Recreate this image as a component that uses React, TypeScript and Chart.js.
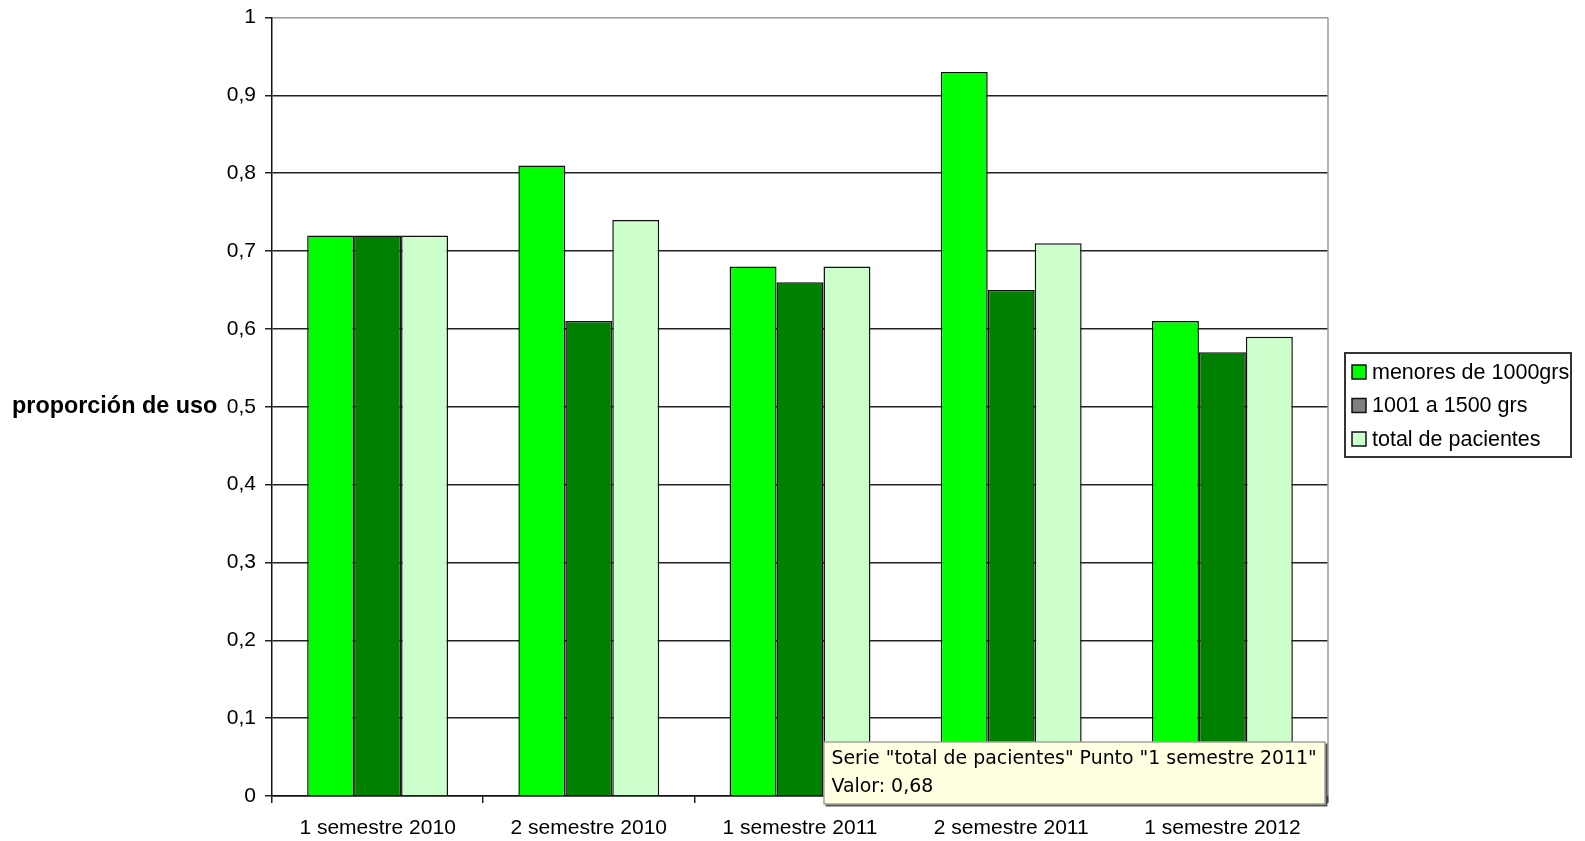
import React, { useEffect, useRef } from "react";
import { Chart, registerables } from "chart.js";

Chart.register(...registerables);

const categories = ["1 semestre 2010", "2 semestre 2010", "1 semestre 2011", "2 semestre 2011", "1 semestre 2012"];
const menores1000 = [0.72, 0.81, 0.68, 0.93, 0.61];
const de1001a1500 = [0.72, 0.61, 0.66, 0.65, 0.57];
const totalPacientes = [0.72, 0.74, 0.68, 0.71, 0.59];
const seriesLabels = ["menores de 1000grs", "1001 a 1500 grs", "total de pacientes"];
const seriesColors = ["#00FF00", "#008000", "#CCFFCC"];
const legendColors = ["#00FF00", "#808080", "#CCFFCC"];
const yAxisTitle = "proporción de uso";
const tooltipSeries = 2;
const tooltipPoint = 2;

const FONT = "'Liberation Sans', Arial, sans-serif";

const fmt = (v: number) => String(Number(v.toFixed(2))).replace(".", ",");

const decorPlugin = {
  id: "decor",
  beforeDraw(chart: any) {
    const { ctx, width, height } = chart;
    ctx.save();
    ctx.fillStyle = "#fff";
    ctx.fillRect(0, 0, width, height);
    ctx.restore();
  },
  afterDraw(chart: any) {
    const { ctx, chartArea } = chart;
    const yScale = chart.scales.y;
    ctx.save();
    // right border of plot area
    ctx.strokeStyle = "#9a9a9a";
    ctx.lineWidth = 1.5;
    ctx.beginPath();
    ctx.moveTo(chartArea.right, chartArea.top);
    ctx.lineTo(chartArea.right, chartArea.bottom);
    ctx.stroke();

    // y axis title (horizontal)
    ctx.fillStyle = "#000";
    ctx.font = `bold 23.4px ${FONT}`;
    ctx.textAlign = "left";
    ctx.textBaseline = "middle";
    ctx.fillText(yAxisTitle, 12, (chartArea.top + chartArea.bottom) / 2);

    // legend
    const lx = chartArea.right + 17;
    const ly = 353;
    const lw = 226;
    const lh = 104;
    ctx.fillStyle = "#fff";
    ctx.fillRect(lx, ly, lw, lh);
    ctx.strokeStyle = "#333";
    ctx.lineWidth = 2;
    ctx.strokeRect(lx, ly, lw, lh);
    ctx.font = `21.5px ${FONT}`;
    seriesLabels.forEach((lab, i) => {
      const cy = ly + 19 + i * 33.5;
      ctx.fillStyle = legendColors[i];
      ctx.fillRect(lx + 7, cy - 7, 14, 14);
      ctx.strokeStyle = "#111";
      ctx.lineWidth = 1.5;
      ctx.strokeRect(lx + 7, cy - 7, 14, 14);
      ctx.fillStyle = "#000";
      ctx.textBaseline = "middle";
      ctx.fillText(lab, lx + 27, cy + 1);
    });

    // hover tooltip (Excel style)
    const meta = chart.getDatasetMeta(tooltipSeries);
    const bar = meta.data[tooltipPoint];
    const tx = bar.x - bar.width / 2;
    const ty = yScale.getPixelForValue(0.07);
    const tw = 502;
    const th = 63;
    ctx.fillStyle = "#555";
    ctx.fillRect(tx + 2, ty + 2, tw, th);
    ctx.fillStyle = "#FFFFE1";
    ctx.fillRect(tx, ty, tw, th);
    ctx.strokeStyle = "#777";
    ctx.lineWidth = 1;
    ctx.strokeRect(tx + 0.5, ty + 0.5, tw - 1, th - 1);
    ctx.fillStyle = "#000";
    ctx.font = `18.9px 'DejaVu Sans', sans-serif`;
    ctx.textBaseline = "middle";
    const dsLabel = seriesLabels[tooltipSeries];
    const val = chart.data.datasets[tooltipSeries].data[tooltipPoint];
    ctx.fillText(`Serie "${dsLabel}" Punto "${categories[tooltipPoint]}"`, tx + 8, ty + 18);
    ctx.fillText(`Valor: ${fmt(val)}`, tx + 8, ty + 46);
    ctx.restore();
  },
};

export default function App() {
  const ref = useRef<HTMLCanvasElement | null>(null);
  useEffect(() => {
    if (!ref.current) return;
    const datasets = [menores1000, de1001a1500, totalPacientes].map((d, i) => ({
      label: seriesLabels[i],
      data: d,
      backgroundColor: seriesColors[i],
      borderColor: "#111",
      borderWidth: 1.5,
      barPercentage: 1,
      categoryPercentage: 0.667,
    }));
    const chart = new Chart(ref.current, {
      type: "bar",
      data: { labels: categories, datasets },
      plugins: [decorPlugin],
      options: {
        animation: false,
        responsive: false,
        devicePixelRatio: 1,
        layout: { padding: { top: 17.5, right: 257, left: 0, bottom: 0 } },
        plugins: { legend: { display: false }, tooltip: { enabled: false } },
        scales: {
          x: {
            grid: {
              offset: true,
              drawOnChartArea: false,
              drawTicks: true,
              tickLength: 7,
              color: "#222",
              lineWidth: 1.5,
            },
            border: { color: "#111", width: 1.5 },
            ticks: { font: { size: 21, family: FONT }, color: "#000", padding: 13, maxRotation: 0 },
            afterFit: (s: any) => {
              s.height = 45;
            },
          },
          y: {
            min: 0,
            max: 1,
            ticks: {
              stepSize: 0.1,
              font: { size: 21, family: FONT },
              color: "#000",
              padding: 9,
              callback: (v: any) => fmt(Number(v)),
            },
            grid: {
              color: (c: any) => (c.tick && Math.abs(c.tick.value - 1) < 1e-6 ? "#9a9a9a" : "#222"),
              lineWidth: 1.5,
              tickLength: 7,
              tickColor: "#222",
            },
            border: { color: "#111", width: 1.5 },
            afterFit: (s: any) => {
              s.width = 272;
              s.paddingTop = 0;
            },
          },
        },
      },
    });
    return () => chart.destroy();
  }, []);
  return (
    <div style={{ position: "absolute", left: 0, top: 0, width: 1585, height: 841 }}>
      <canvas ref={ref} width={1585} height={841} />
    </div>
  );
}
